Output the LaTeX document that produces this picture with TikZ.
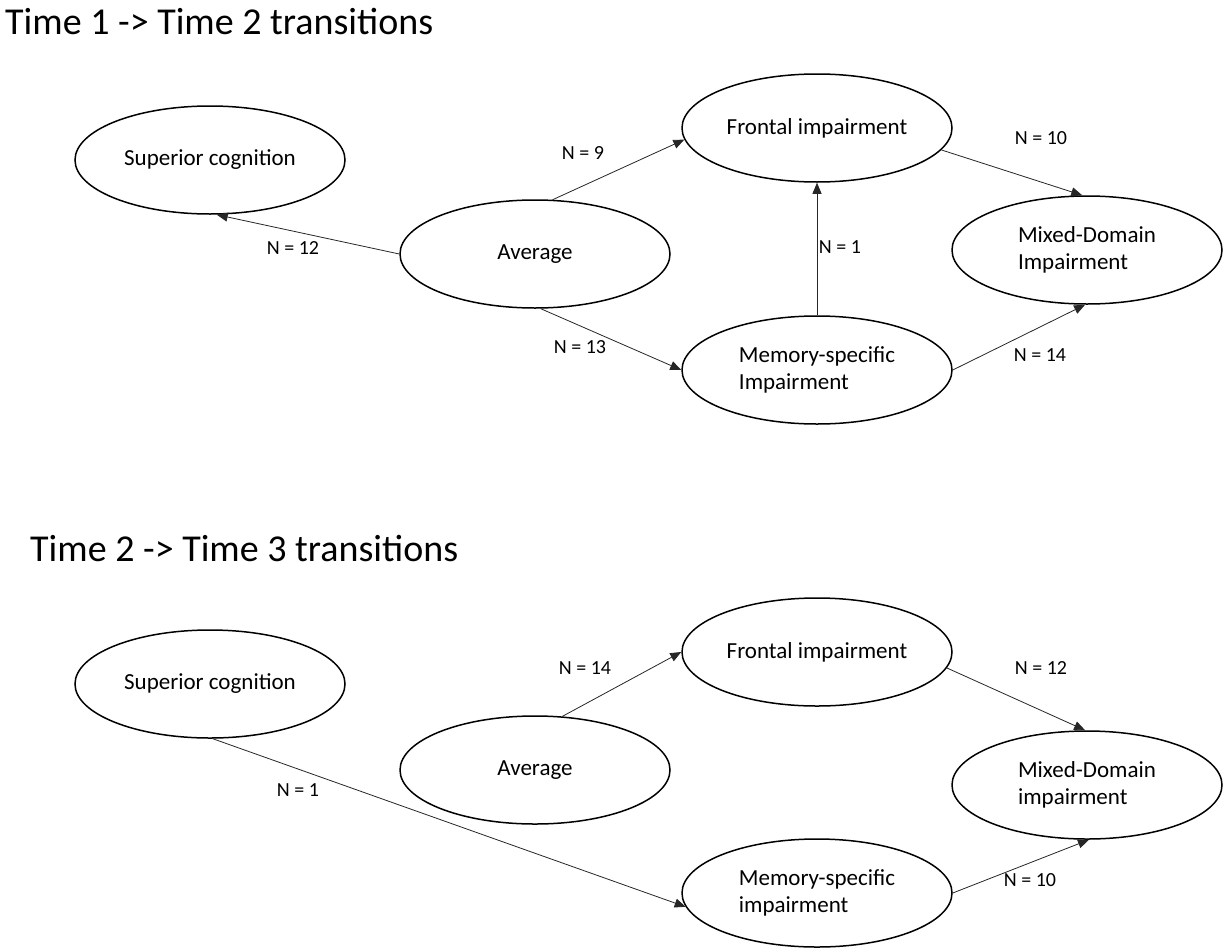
\documentclass[tikz,border=0pt]{standalone}
\usepackage{fontspec}
\setmainfont{Carlito}
\usetikzlibrary{shapes,arrows.meta,positioning,calc}

\tikzset{
  cluster/.style={ellipse, draw, line width=1.5pt, minimum width=270, minimum height=108,
    inner sep=0pt, align=left, font=\fontsize{23}{27}\selectfont},
  trans/.style={draw=black!85, line width=0.8pt, -{Triangle[length=11pt,width=9pt]}},
  nlabel/.style={font=\fontsize{20}{24}\selectfont},
  heading/.style={anchor=west, inner sep=0pt, font=\fontsize{38}{44}\selectfont}
}

\begin{document}
\begin{tikzpicture}[x=1pt, y=-1pt]
    \useasboundingbox (0,0) rectangle (1230,950);

    % Time 1 -> Time 2
    \node[heading] (title1) at (5,22) {Time 1 -> Time 2 transitions};
    \node[cluster] (sup1) at (210,160) {Superior cognition};
    \node[cluster] (avg1) at (535,254) {Average};
    \node[cluster] (front1) at (817,128) {Frontal impairment};
    \node[cluster] (mixed1) at (1087,250) {Mixed-Domain\\Impairment};
    \node[cluster] (mem1) at (817,370) {Memory-specific\\Impairment};

    \draw[trans] (avg1.west) -- (sup1.277);
    \draw[trans] (avg1.72) -- (front1.185);
    \draw[trans] (avg1.276) -- (mem1.west);
    \draw[trans] (mem1.north) -- (front1.south);
    \draw[trans] (front1.350) -- (mixed1.95);
    \draw[trans] (mem1.east) -- (mixed1.268);

    \node[nlabel] (n12a) at (293,248) {N = 12};
    \node[nlabel] (n9a) at (583,153) {N = 9};
    \node[nlabel] (n13a) at (580,347) {N = 13};
    \node[nlabel] (n1a) at (840,247) {N = 1};
    \node[nlabel] (n10a) at (1041,138) {N = 10};
    \node[nlabel] (n14a) at (1040,355) {N = 14};

    % Time 2 -> Time 3
    \node[heading] (title2) at (30,548) {Time 2 -> Time 3 transitions};
    \node[cluster] (sup2) at (210,684) {Superior cognition};
    \node[cluster] (avg2) at (535,770) {Average};
    \node[cluster] (front2) at (817,652) {Frontal impairment};
    \node[cluster] (mixed2) at (1087,785) {Mixed-Domain\\impairment};
    \node[cluster] (mem2) at (817,893) {Memory-specific\\impairment};

    \draw[trans] (sup2.273) -- (mem2.186);
    \draw[trans] (avg2.63) -- (front2.west);
    \draw[trans] (front2.353) -- (mixed2.92);
    \draw[trans] (mem2.east) -- (mixed2.272);

    \node[nlabel] (n1b) at (298,790) {N = 1};
    \node[nlabel] (n14b) at (585,668) {N = 14};
    \node[nlabel] (n12b) at (1041,668) {N = 12};
    \node[nlabel] (n10b) at (1030,880) {N = 10};
\end{tikzpicture}
\end{document}
